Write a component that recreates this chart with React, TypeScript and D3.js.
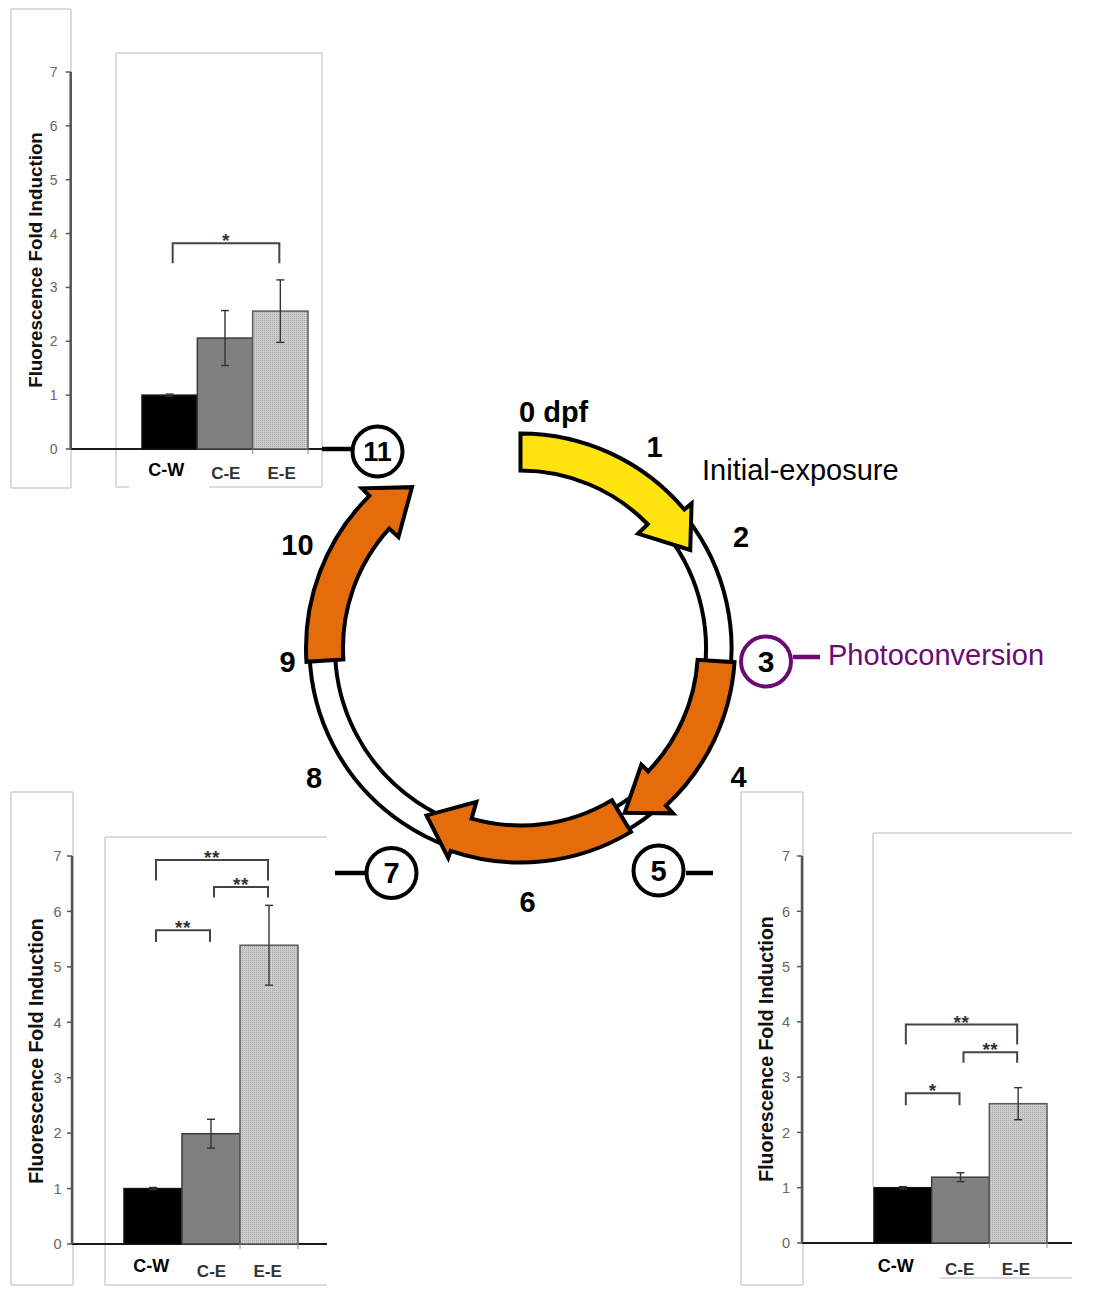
import React from 'react';
import * as d3 from 'd3';

// ---------------- DATA ----------------
const categories = ['C-W', 'C-E', 'E-E'];
const yTicks = [0, 1, 2, 3, 4, 5, 6, 7];
const yTitle = 'Fluorescence Fold Induction';

const day11Means = [1.0, 2.06, 2.56];
const day11Errors = [0.02, 0.51, 0.58];
const day11Brackets = [{ from: 'C-W', to: 'E-E', top: 3.82, leg: 3.45, label: '*' }];

const day7Means = [1.0, 1.99, 5.39];
const day7Errors = [0.02, 0.26, 0.72];
const day7Brackets = [
  { from: 'C-W', to: 'C-E', top: 5.66, leg: 5.45, label: '**' },
  { from: 'C-E', to: 'E-E', top: 6.44, leg: 6.25, label: '**' },
  { from: 'C-W', to: 'E-E', top: 6.93, leg: 6.56, label: '**' },
];

const day5Means = [1.0, 1.19, 2.52];
const day5Errors = [0.02, 0.08, 0.29];
const day5Brackets = [
  { from: 'C-W', to: 'C-E', top: 2.71, leg: 2.49, label: '*' },
  { from: 'C-E', to: 'E-E', top: 3.45, leg: 3.26, label: '**' },
  { from: 'C-W', to: 'E-E', top: 3.95, leg: 3.59, label: '**' },
];

// cycle: arrows in degrees clockwise from 12 o'clock; [angle, radius]
const initialArrow = { start: 0, outerBarb: [49.8, 224], innerBarb: [45.8, 164], tip: [60, 196] };
const exposureArrows = [
  { start: 93.8, outerBarb: [137.3, 225], innerBarb: [134, 168], tip: [147.7, 195] },
  { start: 149, outerBarb: [199, 222], innerBarb: [196, 160], tip: [209.3, 192] },
  { start: 266.3, outerBarb: [315.2, 225], innerBarb: [312.3, 165], tip: [326, 194] },
];
const ringSpan = [52, 268];
const plainDays = ['0 dpf', '1', '2', '4', '6', '8', '9', '10'];
const circledDays = ['3', '5', '7', '11'];
const phaseLabels = ['Initial-exposure', 'Photoconversion'];

// ---------------- LAYOUT / STYLE ----------------
const FONT = "'Liberation Sans', Arial, Helvetica, sans-serif";
const CX = 520.5, CY = 648;
const RING_OUT = 211, RING_IN = 185.5;
const ARROW_OUT = 214.5, ARROW_IN = 177.5;
const YELLOW = '#FFE30F', ORANGE = '#E46C0A', PURPLE = '#6E0A73';

const dayPos = {
  '0 dpf': { x: 519, y: 422, anchor: 'start' },
  '1': { x: 654.5, y: 457 },
  '2': { x: 741, y: 547 },
  '4': { x: 738.5, y: 786.5 },
  '6': { x: 527.5, y: 912 },
  '8': { x: 314, y: 788 },
  '9': { x: 287.5, y: 671.5 },
  '10': { x: 297.5, y: 555 },
};
const circlePos = {
  '3': { x: 766, y: 661.5, color: PURPLE, line: [793, 820, 657], size: 30 },
  '5': { x: 658.5, y: 870.5, color: '#000', line: [686, 713, 873], size: 29 },
  '7': { x: 391.5, y: 873, color: '#000', line: [335, 366, 873], size: 29 },
  '11': { x: 377.5, y: 451.5, color: '#000', line: [322, 351, 449], size: 27 },
};
const phasePos = {
  'Initial-exposure': { x: 702, y: 480, color: '#000' },
  'Photoconversion': { x: 828, y: 665, color: PURPLE },
};

const panels = [
  {
    key: 'd11', means: day11Means, errors: day11Errors, brackets: day11Brackets,
    axisX: 70.7, y0: 449, y7: 72, band: [142, 308], xAxisEnd: 322,
    tickLabelX: 57.5, tickSize: 14, titleX: 41.7, titleY: 260, titleSize: 18.8,
    cwDx: -3.5, cwBase: 476, catBase: 479, catDx: [0, 0.8, 1.3],
    patch: [129, 450, 80, 40],
    lines: [
      [11, 9, 71, 9], [11, 9, 11, 488], [11, 488, 71, 488], [71, 9, 71, 488],
      [116, 53, 322, 53], [116, 53, 116, 487], [322, 53, 322, 487], [116, 487, 322, 487],
    ],
  },
  {
    key: 'd7', means: day7Means, errors: day7Errors, brackets: day7Brackets,
    axisX: 72, y0: 1244, y7: 856, band: [124, 298], xAxisEnd: 327,
    tickLabelX: 61.5, tickSize: 14.5, titleX: 42.7, titleY: 1051, titleSize: 19.5,
    cwDx: -1.7, cwBase: 1271.5, catBase: 1276.5, catDx: [0, 0.5, -1.3],
    patch: null,
    lines: [
      [11, 792, 73, 792], [11, 792, 11, 1285], [11, 1285, 73, 1285], [73, 792, 73, 1285],
      [105, 837, 327, 837], [105, 837, 105, 1285], [105, 1285, 327, 1285],
    ],
  },
  {
    key: 'd5', means: day5Means, errors: day5Errors, brackets: day5Brackets,
    axisX: 802, y0: 1243, y7: 856, band: [874, 1047], xAxisEnd: 1072,
    tickLabelX: 790, tickSize: 14.5, titleX: 772.7, titleY: 1049, titleSize: 19.5,
    cwDx: -7.2, cwBase: 1271.5, catBase: 1275, catDx: [0, -0.8, -2.2],
    patch: null,
    lines: [
      [741, 792, 803, 792], [741, 792, 741, 1285], [741, 1285, 803, 1285], [803, 792, 803, 1285],
      [873, 833, 1072, 833], [873, 833, 873, 1187], [940, 1278, 1072, 1278],
    ],
  },
];

const barFills = ['#000000', '#808080', 'url(#stipple)'];
const barStrokes = ['#111', '#3c3c3c', '#5a5a5a'];

// ---------------- COMPONENTS ----------------
function BarPanel({ p }) {
  const x = d3.scaleBand().domain(categories).range(p.band).padding(0);
  const y = d3.scaleLinear().domain([0, 7]).range([p.y0, p.y7]);
  const bw = x.bandwidth();
  const center = (c) => x(c) + bw / 2;
  return (
    <g>
      {p.lines.map((l, i) => (
        <line key={'b' + i} x1={l[0]} y1={l[1]} x2={l[2]} y2={l[3]} stroke="#cfcfcf" strokeWidth={1.5} />
      ))}
      {p.patch && <rect x={p.patch[0]} y={p.patch[1]} width={p.patch[2]} height={p.patch[3]} fill="#fff" />}
      <line x1={p.axisX} x2={p.xAxisEnd} y1={y(0)} y2={y(0)} stroke="#1a1a1a" strokeWidth={2} />
      {categories.map((c, i) => (
        <rect key={c} x={x(c)} y={y(p.means[i])} width={bw} height={y(0) - y(p.means[i])}
          fill={barFills[i]} stroke={barStrokes[i]} strokeWidth={1.5} />
      ))}
      {categories.map((c, i) => {
        const cx = center(c);
        const hi = y(p.means[i] + p.errors[i]);
        const lo = y(p.means[i] - p.errors[i]);
        return (
          <g key={'e' + c} stroke="#333" strokeWidth={1.4}>
            <line x1={cx} x2={cx} y1={hi} y2={lo} />
            <line x1={cx - 4} x2={cx + 4} y1={hi} y2={hi} />
            <line x1={cx - 4} x2={cx + 4} y1={lo} y2={lo} />
          </g>
        );
      })}
      {categories.slice(2).map((c) => (
        <g key={'t' + c} stroke="#888" strokeWidth={1}>
          <line x1={x(c)} x2={x(c)} y1={y(0)} y2={y(0) + 5} />
          <line x1={x(c) + bw} x2={x(c) + bw} y1={y(0)} y2={y(0) + 5} />
        </g>
      ))}
      {p.brackets.map((b, i) => {
        const xl = center(b.from) + 3;
        const xr = center(b.to) - 1;
        const yt = y(b.top);
        const yl = y(b.leg);
        return (
          <g key={'br' + i}>
            <path d={`M${xl},${yl}V${yt}H${xr}V${yl}`} fill="none" stroke="#444" strokeWidth={2} />
            <text x={(xl + xr) / 2} y={yt + 4} textAnchor="middle" fontFamily={FONT} fontWeight="bold"
              fontSize={19} letterSpacing={0.5} fill="#333">
              {b.label}
            </text>
          </g>
        );
      })}
      <line x1={p.axisX} x2={p.axisX} y1={y(0)} y2={y(7)} stroke="#555" strokeWidth={2.5} />
      {yTicks.map((t) => (
        <g key={'yt' + t}>
          <line x1={p.axisX - 5} x2={p.axisX} y1={y(t)} y2={y(t)} stroke="#555" strokeWidth={1.5} />
          <text x={p.tickLabelX} y={y(t)} dy="0.36em" textAnchor="end" fontFamily={FONT}
            fontSize={p.tickSize} fill="#666">{t}</text>
        </g>
      ))}
      <text transform={`translate(${p.titleX},${p.titleY}) rotate(-90)`} textAnchor="middle"
        fontFamily={FONT} fontWeight="bold" fontSize={p.titleSize} fill="#111">{yTitle}</text>
      {categories.map((c, i) => (
        <text key={'cl' + c} x={center(c) + (i === 0 ? p.cwDx : p.catDx[i])} y={i === 0 ? p.cwBase : p.catBase}
          textAnchor="middle" fontFamily={FONT} fontWeight="bold" fontSize={i === 0 ? 18 : 17}
          fill={i === 0 ? '#000' : '#333'}>{c}</text>
      ))}
    </g>
  );
}

const rad = (deg) => ((deg - 90) * Math.PI) / 180;
const pt = (deg, r) => [CX + r * Math.cos(rad(deg)), CY + r * Math.sin(rad(deg))];

function arrowPath(a) {
  const p = d3.path();
  const s = pt(a.start, ARROW_OUT);
  p.moveTo(s[0], s[1]);
  p.arc(CX, CY, ARROW_OUT, rad(a.start), rad(a.outerBarb[0]), false);
  const ob = pt(a.outerBarb[0], a.outerBarb[1]);
  p.lineTo(ob[0], ob[1]);
  const tp = pt(a.tip[0], a.tip[1]);
  p.lineTo(tp[0], tp[1]);
  const ib = pt(a.innerBarb[0], a.innerBarb[1]);
  p.lineTo(ib[0], ib[1]);
  const ie = pt(a.innerBarb[0], ARROW_IN);
  p.lineTo(ie[0], ie[1]);
  p.arc(CX, CY, ARROW_IN, rad(a.innerBarb[0]), rad(a.start), true);
  p.closePath();
  return p.toString();
}

function Cycle() {
  const toR = (d) => (d * Math.PI) / 180;
  const ring = d3.arc()({
    innerRadius: RING_IN, outerRadius: RING_OUT,
    startAngle: toR(ringSpan[0]), endAngle: toR(ringSpan[1]),
  });
  return (
    <g>
      <path d={ring} transform={`translate(${CX},${CY})`} fill="#fff" stroke="#000" strokeWidth={4} />
      <path d={arrowPath(initialArrow)} fill={YELLOW} stroke="#000" strokeWidth={4} strokeLinejoin="miter" />
      {exposureArrows.map((a, i) => (
        <path key={i} d={arrowPath(a)} fill={ORANGE} stroke="#000" strokeWidth={4} strokeLinejoin="miter" />
      ))}
      {plainDays.map((d) => {
        const pos = dayPos[d];
        return (
          <text key={d} x={pos.x} y={pos.y} textAnchor={pos.anchor || 'middle'} fontFamily={FONT}
            fontWeight="bold" fontSize={29} fill="#000">{d}</text>
        );
      })}
      {circledDays.map((d) => {
        const c = circlePos[d];
        return (
          <g key={'c' + d}>
            <line x1={c.line[0]} x2={c.line[1]} y1={c.line[2]} y2={c.line[2]} stroke={c.color} strokeWidth={4.5} />
            <circle cx={c.x} cy={c.y} r={25} fill="#fff" stroke={c.color} strokeWidth={4} />
            <text x={c.x} y={c.y} dy="0.36em" textAnchor="middle" fontFamily={FONT} fontWeight="bold"
              fontSize={c.size} fill="#000">{d}</text>
          </g>
        );
      })}
      {phaseLabels.map((l) => {
        const pos = phasePos[l];
        return (
          <text key={l} x={pos.x} y={pos.y} fontFamily={FONT} fontSize={29} fill={pos.color}>{l}</text>
        );
      })}
    </g>
  );
}

export default function App() {
  return (
    <div style={{ position: 'absolute', left: 0, top: 0 }}>
      <svg width={1102} height={1294} style={{ display: 'block', background: '#fff' }}>
        <defs>
          <pattern id="stipple" width={2} height={2} patternUnits="userSpaceOnUse">
            <rect width={2} height={2} fill="#cccccc" />
            <rect width={1} height={1} fill="#ababab" />
          </pattern>
        </defs>
        <rect width={1102} height={1294} fill="#fff" />
        {panels.map((p) => (
          <BarPanel key={p.key} p={p} />
        ))}
        <Cycle />
      </svg>
    </div>
  );
}
